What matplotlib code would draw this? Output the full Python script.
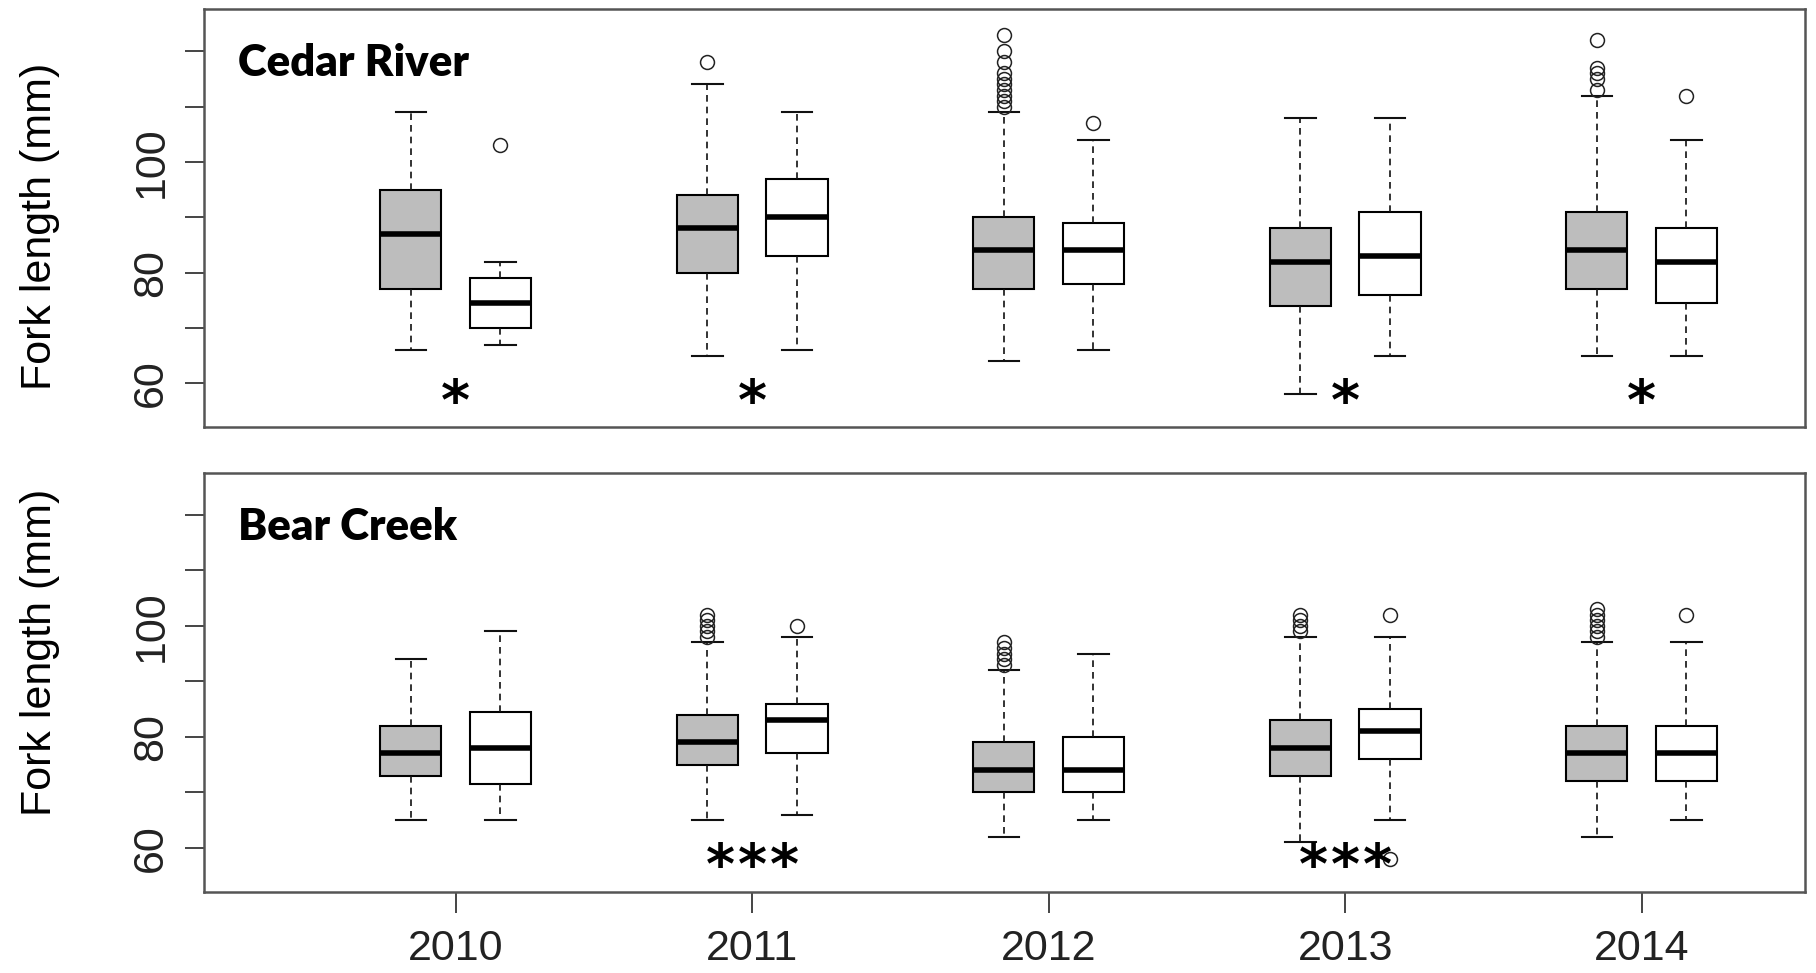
import numpy as np
import matplotlib
matplotlib.use("Agg")
import matplotlib.pyplot as plt

# Fork length summaries (mm), one entry per year.
years = ["2010", "2011", "2012", "2013", "2014"]

# Cedar River, shaded boxes
cedar_shaded_lo = [66, 65, 64, 58, 65]
cedar_shaded_q1 = [77, 80, 77, 74, 77]
cedar_shaded_med = [87, 88, 84, 82, 84]
cedar_shaded_q3 = [95, 94, 90, 88, 91]
cedar_shaded_hi = [109, 114, 109, 108, 112]
cedar_shaded_out = [[], [118], [110, 111, 112, 113, 114, 115, 116, 118, 120, 123], [],
                    [113, 115, 116, 117, 122]]

# Cedar River, open boxes
cedar_open_lo = [67, 66, 66, 65, 65]
cedar_open_q1 = [70, 83, 78, 76, 74.5]
cedar_open_med = [74.5, 90, 84, 83, 82]
cedar_open_q3 = [79, 97, 89, 91, 88]
cedar_open_hi = [82, 109, 104, 108, 104]
cedar_open_out = [[103], [], [107], [], [112]]

# Bear Creek, shaded boxes
bear_shaded_lo = [65, 65, 62, 61, 62]
bear_shaded_q1 = [73, 75, 70, 73, 72]
bear_shaded_med = [77, 79, 74, 78, 77]
bear_shaded_q3 = [82, 84, 79, 83, 82]
bear_shaded_hi = [94, 97, 92, 98, 97]
bear_shaded_out = [[], [98, 99, 100, 101, 102], [93, 94, 95, 96, 97],
                   [99, 100, 101, 102], [98, 99, 100, 101, 102, 103]]

# Bear Creek, open boxes
bear_open_lo = [65, 66, 65, 65, 65]
bear_open_q1 = [71.5, 77, 70, 76, 72]
bear_open_med = [78, 83, 74, 81, 77]
bear_open_q3 = [84.5, 86, 80, 85, 82]
bear_open_hi = [99, 98, 95, 98, 97]
bear_open_out = [[], [100], [], [58, 102], [102]]

# significance marks under each year
cedar_marks = ["*", "*", "", "*", "*"]
bear_marks = ["", "***", "", "***", ""]

yticks = [60, 70, 80, 90, 100, 110, 120]
ytick_labels = ["60", "", "80", "", "100", "", ""]


def make_stats(lo, q1, med, q3, hi, out):
    stats = []
    for i in range(len(lo)):
        stats.append(dict(whislo=lo[i], q1=q1[i], med=med[i], q3=q3[i],
                          whishi=hi[i], fliers=out[i]))
    return stats


def draw_panel(ax, shaded, opened, marks, title):
    x = np.arange(len(years))
    offset = 0.151
    common = dict(widths=0.206, capwidths=0.103, patch_artist=True,
                  manage_ticks=False,
                  medianprops=dict(color="black", linewidth=4.0,
                                   solid_capstyle="butt"),
                  whiskerprops=dict(color="#111111", linewidth=1.2,
                                    linestyle=(0, (4, 3))),
                  capprops=dict(color="#111111", linewidth=1.5),
                  flierprops=dict(marker="o", markersize=10,
                                  markerfacecolor="none",
                                  markeredgecolor="#222222",
                                  markeredgewidth=1.1))
    ax.bxp(shaded, positions=x - offset,
           boxprops=dict(facecolor="#bdbdbd", edgecolor="black", linewidth=1.5),
           **common)
    ax.bxp(opened, positions=x + offset,
           boxprops=dict(facecolor="white", edgecolor="black", linewidth=1.5),
           **common)

    # asterisks centred under each year
    for i, m in enumerate(marks):
        n = len(m)
        for k in range(n):
            ax.text(x[i] + (k - (n - 1) / 2) * 0.108, 53.6, "*",
                    ha="center", va="baseline", fontsize=40,
                    fontweight="bold", family="DejaVu Sans", color="black")

    ax.text(0.0212, 0.84, title, transform=ax.transAxes, ha="left",
            va="baseline", fontsize=31.5, fontweight="heavy", family="Lato")

    ax.set_xlim(-0.849, 4.551)
    ax.set_ylim(52.1, 127.6)
    ax.set_yticks(yticks)
    ax.set_yticklabels(ytick_labels, rotation=90, va="center",
                       family="Liberation Sans", fontsize=31, color="#222222")
    ax.tick_params(axis="y", length=13.5, width=1.4, color="#444444", pad=10)
    for s in ax.spines.values():
        s.set_color("#555555")
        s.set_linewidth(1.8)
    ax.set_ylabel("Fork length (mm)", family="Liberation Sans", fontsize=31)


fig = plt.figure(figsize=(18.16, 9.73), dpi=100)
ax_top = fig.add_axes([0.1123, 0.5612, 0.8817, 0.4293])
ax_bot = fig.add_axes([0.1123, 0.0836, 0.8817, 0.4306])

draw_panel(ax_top,
           make_stats(cedar_shaded_lo, cedar_shaded_q1, cedar_shaded_med,
                      cedar_shaded_q3, cedar_shaded_hi, cedar_shaded_out),
           make_stats(cedar_open_lo, cedar_open_q1, cedar_open_med,
                      cedar_open_q3, cedar_open_hi, cedar_open_out),
           cedar_marks, "Cedar River")
draw_panel(ax_bot,
           make_stats(bear_shaded_lo, bear_shaded_q1, bear_shaded_med,
                      bear_shaded_q3, bear_shaded_hi, bear_shaded_out),
           make_stats(bear_open_lo, bear_open_q1, bear_open_med,
                      bear_open_q3, bear_open_hi, bear_open_out),
           bear_marks, "Bear Creek")

ax_top.set_xticks([])
ax_bot.set_xticks(np.arange(len(years)))
ax_bot.set_xticklabels(years, family="Liberation Sans", fontsize=31,
                       color="#222222")
ax_bot.tick_params(axis="x", length=15, width=1.4, color="#444444", pad=12)

ax_top.yaxis.set_label_coords(-0.090, 0.48)
ax_bot.yaxis.set_label_coords(-0.090, 0.57)

fig.savefig("out.png", dpi=100, facecolor="white")
